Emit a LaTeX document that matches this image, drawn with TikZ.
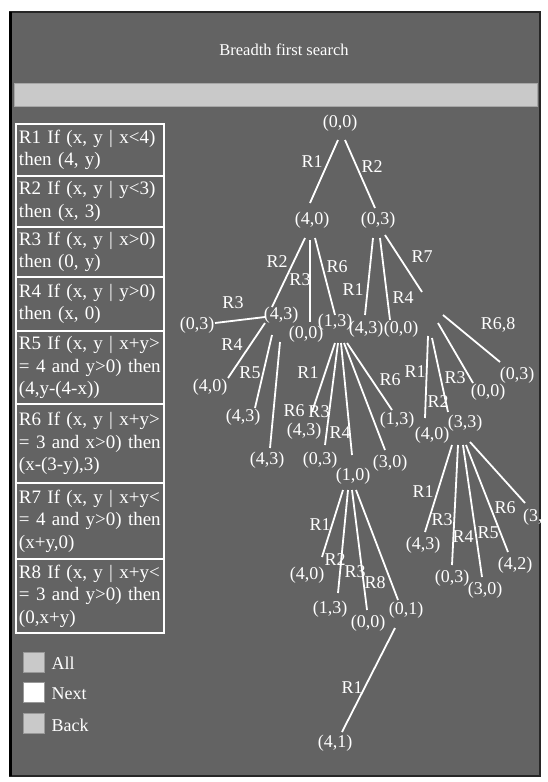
\documentclass[tikz,border=0pt]{standalone}
\usepackage{fontspec}
\setmainfont{Liberation Serif}
\usepackage{tikz}
\usepackage{xcolor}
\definecolor{panelgray}{RGB}{99,99,99}
\definecolor{bargray}{RGB}{201,201,201}

\begin{document}
\begin{tikzpicture}[x=1pt,y=-1pt,
    every node/.style={text=white,font=\fontsize{18}{22}\selectfont},
    state/.style={inner sep=1pt},
    rlabel/.style={inner sep=1pt},
    branch/.style={draw=white,line width=1.8pt},
    rulebox/.style={draw=white,line width=1.5pt,
      minimum width=148pt,text width=142pt,align=left,inner sep=3pt,
      font=\fontsize{19}{22.5}\selectfont},
    button/.style={minimum width=21pt,minimum height=20pt,inner sep=0pt,draw=gray!80}]
    \useasboundingbox (0,0) rectangle (547,782);

    % window
    \draw[fill=panelgray,draw=black!85,line width=1.5pt] (10,12) rectangle (540,776);
    \draw[black,line width=3pt] (10,12) -- (10,776);
    \node[font=\fontsize{16.5}{20}\selectfont] (title) at (284,50) {Breadth first search};
    \draw[fill=bargray,draw=gray!70] (14,83) rectangle (537,106);

    % production rules
    \node[rulebox,minimum height=52pt] (r1) at (90,150) {R1 If (x, y | x<4)\\then (4, y)};
    \node[rulebox,minimum height=51pt] (r2) at (90,201.5) {R2 If (x, y | y<3)\\then (x, 3)};
    \node[rulebox,minimum height=50pt] (r3) at (90,252) {R3 If (x, y | x>0)\\then (0, y)};
    \node[rulebox,minimum height=54pt] (r4) at (90,304) {R4 If (x, y | y>0)\\then (x, 0)};
    \node[rulebox,minimum height=73pt] (r5) at (90,367.5) {R5 If (x, y | x+y>\\= 4 and y>0) then\\(4,y-(4-x))};
    \node[rulebox,minimum height=79pt] (r6) at (90,443.5) {R6 If (x, y | x+y>\\= 3 and x>0) then\\(x-(3-y),3)};
    \node[rulebox,minimum height=76pt] (r7) at (90,521) {R7 If (x, y | x+y<\\= 4 and y>0) then\\(x+y,0)};
    \node[rulebox,minimum height=74pt] (r8) at (90,596) {R8 If (x, y | x+y<\\= 3 and y>0) then\\(0,x+y)};

    % buttons
    \node[button,fill=bargray] (all) at (33.5,662) {};
    \node[button,fill=white] (next) at (33.5,692) {};
    \node[button,fill=bargray] (back) at (33.5,723) {};
    \node[anchor=west] (alltext) at (48,663) {All};
    \node[anchor=west] (nexttext) at (48,694) {Next};
    \node[anchor=west] (backtext) at (48,725) {Back};

    % search tree states
    \node[state] (n0) at (340,123) {(0,0)};
    \node[state] (n1) at (312,220) {(4,0)};
    \node[state] (n2) at (378,220) {(0,3)};
    \node[state] (n11) at (281,315) {(4,3)};
    \node[state] (n12) at (306,334) {(0,0)};
    \node[state] (n13) at (335,322) {(1,3)};
    \node[state] (n21) at (366,329) {(4,3)};
    \node[state] (n22) at (401,329) {(0,0)};
    \node[state] (n111) at (197,325) {(0,3)};
    \node[state] (n112) at (210,387) {(4,0)};
    \node[state] (n113) at (243,417) {(4,3)};
    \node[state] (n114) at (267,460) {(4,3)};
    \node[state] (n131) at (304,431) {(4,3)};
    \node[state] (n132) at (320,460) {(0,3)};
    \node[state] (n133) at (353,476) {(1,0)};
    \node[state] (n134) at (390,463) {(3,0)};
    \node[state] (n135) at (397,420) {(1,3)};
    \node[state] (n221) at (432,435) {(4,0)};
    \node[state] (n222) at (465,423) {(3,3)};
    \node[state] (n223) at (488,392) {(0,0)};
    \node[state] (n224) at (517,375) {(0,3)};
    \node[state] (n1331) at (307,575) {(4,0)};
    \node[state] (n1332) at (330,609) {(1,3)};
    \node[state] (n1333) at (368,623) {(0,0)};
    \node[state] (n1334) at (406,610) {(0,1)};
    \node[state] (n13341) at (335,743) {(4,1)};
    \node[state] (n2221) at (423,545) {(4,3)};
    \node[state] (n2222) at (452,578) {(0,3)};
    \node[state] (n2223) at (485,590) {(3,0)};
    \node[state] (n2224) at (515,565) {(4,2)};
    \node[state,anchor=west] (n2225) at (522,517) {(3,};
    \coordinate (r7end) at (422,292);

    % branches
    \draw[branch] ([shift={(-2,17)}]n0.center) -- ([shift={(-2,-17)}]n1.center);
    \draw[branch] ([shift={(5,17)}]n0.center) -- ([shift={(-3,-12)}]n2.center);
    \draw[branch] ([shift={(-7,18)}]n1.center) -- ([shift={(-9,-8)}]n11.center);
    \draw[branch] ([shift={(-2,20)}]n1.center) -- ([shift={(4,-12)}]n12.center);
    \draw[branch] ([shift={(3,18)}]n1.center) -- ([shift={(0,-7)}]n13.center);
    \draw[branch] ([shift={(-5,18)}]n2.center) -- ([shift={(-1,-14)}]n21.center);
    \draw[branch] ([shift={(2,18)}]n2.center) -- ([shift={(-11,-9)}]n22.center);
    \draw[branch] ([shift={(7,15)}]n2.center) -- (r7end);
    \draw[branch] ([shift={(-16,2)}]n11.center) -- ([shift={(18,-2)}]n111.center);
    \draw[branch] ([shift={(-16,8)}]n11.center) -- ([shift={(18,-9)}]n112.center);
    \draw[branch] ([shift={(-9,20)}]n11.center) -- ([shift={(12,-9)}]n113.center);
    \draw[branch] ([shift={(-1,27)}]n11.center) -- ([shift={(3,-12)}]n114.center);
    \draw[branch] ([shift={(0,21)}]n13.center) -- ([shift={(8,-19)}]n131.center);
    \draw[branch] ([shift={(3,21)}]n13.center) -- ([shift={(5,-15)}]n132.center);
    \draw[branch] ([shift={(6,21)}]n13.center) -- ([shift={(-1,-21)}]n133.center);
    \draw[branch] ([shift={(9,21)}]n13.center) -- ([shift={(-5,-13)}]n134.center);
    \draw[branch] ([shift={(12,21)}]n13.center) -- ([shift={(-5,-10)}]n135.center);
    \draw[branch] ([shift={(27,7)}]n22.center) -- ([shift={(-7,-17)}]n221.center);
    \draw[branch] ([shift={(31,9)}]n22.center) -- ([shift={(-17,-11)}]n222.center);
    \draw[branch] ([shift={(37,-6)}]n22.center) -- ([shift={(-15,-9)}]n223.center);
    \draw[branch] ([shift={(42,-14)}]n22.center) -- ([shift={(-17,-13)}]n224.center);
    \draw[branch] ([shift={(-13,22)}]n222.center) -- ([shift={(2,-13)}]n2221.center);
    \draw[branch] ([shift={(-7,22)}]n222.center) -- ([shift={(0,-13)}]n2222.center);
    \draw[branch] ([shift={(-2,22)}]n222.center) -- ([shift={(-3,-13)}]n2223.center);
    \draw[branch] ([shift={(1,22)}]n222.center) -- ([shift={(-7,-13)}]n2224.center);
    \draw[branch] ([shift={(5,19)}]n222.center) -- ([shift={(3,-14)}]n2225.west);
    \draw[branch] ([shift={(-10,14)}]n133.center) -- ([shift={(15,-18)}]n1331.center);
    \draw[branch] ([shift={(-5,14)}]n133.center) -- ([shift={(8,-16)}]n1332.center);
    \draw[branch] ([shift={(-1,14)}]n133.center) -- ([shift={(-1,-13)}]n1333.center);
    \draw[branch] ([shift={(3,14)}]n133.center) -- ([shift={(-8,-10)}]n1334.center);
    \draw[branch] ([shift={(-11,18)}]n1334.center) -- ([shift={(7,-11)}]n13341.center);

    % rule labels on the branches
    \node[rlabel] (l1) at (312,162) {R1};
    \node[rlabel] (l2) at (372,167) {R2};
    \node[rlabel] (l3) at (277,262) {R2};
    \node[rlabel] (l4) at (300,280) {R3};
    \node[rlabel] (l5) at (337,267) {R6};
    \node[rlabel] (l6) at (353,290) {R1};
    \node[rlabel] (l7) at (403,298) {R4};
    \node[rlabel] (l8) at (422,257) {R7};
    \node[rlabel] (l9) at (233,303) {R3};
    \node[rlabel] (l10) at (232,345) {R4};
    \node[rlabel] (l11) at (250,373) {R5};
    \node[rlabel] (l12) at (308,373) {R1};
    \node[rlabel] (l13) at (294,411) {R6};
    \node[rlabel] (l14) at (319,412) {R3};
    \node[rlabel] (l15) at (340,433) {R4};
    \node[rlabel] (l16) at (390,380) {R6};
    \node[rlabel] (l17) at (415,372) {R1};
    \node[rlabel] (l18) at (455,378) {R3};
    \node[rlabel] (l19) at (438,402) {R2};
    \node[rlabel] (l20) at (498,325) {R6,8};
    \node[rlabel] (l21) at (423,492) {R1};
    \node[rlabel] (l22) at (442,520) {R3};
    \node[rlabel] (l23) at (463,537) {R4};
    \node[rlabel] (l24) at (488,533) {R5};
    \node[rlabel] (l25) at (505,508) {R6};
    \node[rlabel] (l26) at (320,525) {R1};
    \node[rlabel] (l27) at (335,560) {R2};
    \node[rlabel] (l28) at (355,572) {R3};
    \node[rlabel] (l29) at (375,583) {R8};
    \node[rlabel] (l30) at (352,688) {R1};
  \end{tikzpicture}
\end{document}
